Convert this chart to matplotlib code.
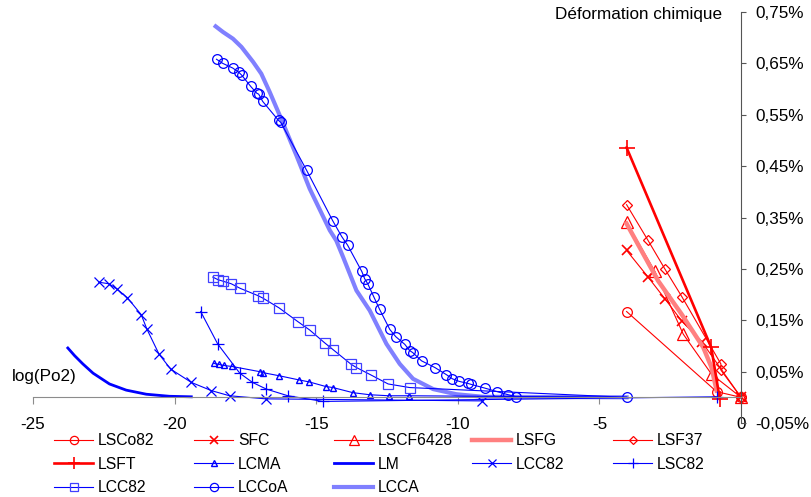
import numpy as np
import matplotlib.pyplot as plt
from matplotlib.ticker import FixedLocator, FuncFormatter

plt.rcParams['font.family'] = ['Liberation Sans', 'DejaVu Sans']
plt.rcParams['axes.unicode_minus'] = False

# --- data (x = log(Po2), y = chemical strain in %) ---
lsco82_x = [-4.04, -0.86, 0.0]
lsco82_y = [0.167, 0.011, 0.0]

sfc_x = [-4.04, -3.28, -2.69, -2.10, -1.37, 0.0]
sfc_y = [0.286, 0.234, 0.192, 0.149, 0.107, 0.0]

lscf6428_x = [-4.04, -3.04, -2.04, -1.04, 0.0]
lscf6428_y = [0.341, 0.245, 0.123, 0.045, 0.0]

lsfg_x = [-4.04, -2.93, -2.10, -1.33, -1.04, -0.86]
lsfg_y = [0.338, 0.227, 0.162, 0.097, 0.058, 0.013]

lsf37_x = [-4.04, -3.30, -2.69, -2.09, -0.71, -0.71, 0.0]
lsf37_y = [0.375, 0.307, 0.250, 0.196, 0.065, 0.053, 0.0]

lsft_x = [-4.04, -1.05, -0.75]
lsft_y = [0.486, 0.097, -0.003]

lcma_x = [-18.62, -18.43, -18.27, -17.97, -17.00, -16.88, -16.31, -15.62, -15.25,
          -14.66, -14.41, -13.70, -13.11, -12.43, -11.72, -4.04]
lcma_y = [0.066, 0.064, 0.062, 0.060, 0.050, 0.048, 0.042, 0.034, 0.030,
          0.021, 0.019, 0.009, 0.005, 0.003, 0.003, 0.0]

lm_x = [-23.77, -23.53, -23.24, -22.88, -22.30, -21.71, -21.00, -20.18, -19.41]
lm_y = [0.096, 0.081, 0.065, 0.047, 0.026, 0.014, 0.006, 0.002, 0.001]

lcc82x_x = [-22.67, -22.32, -22.04, -21.67, -21.18, -20.98, -20.55, -20.14, -19.41,
            -18.70, -18.06, -16.78, -9.13]
lcc82x_y = [0.224, 0.221, 0.211, 0.194, 0.161, 0.133, 0.084, 0.055, 0.029,
            0.013, 0.003, -0.003, -0.007]

lsc82_x = [-19.08, -18.48, -17.70, -17.25, -16.76, -16.00, -14.76, -0.86]
lsc82_y = [0.167, 0.104, 0.047, 0.029, 0.016, 0.003, -0.008, 0.001]

lcc82s_x = [-18.65, -18.47, -18.29, -18.00, -17.68, -17.06, -16.88, -16.31, -15.64,
            -15.23, -14.70, -14.41, -13.76, -13.58, -13.05, -12.46, -11.70, -4.04]
lcc82s_y = [0.234, 0.229, 0.226, 0.221, 0.212, 0.198, 0.193, 0.174, 0.147,
            0.131, 0.106, 0.093, 0.064, 0.058, 0.043, 0.026, 0.019, 0.0]

lccoa_x = [-18.52, -18.30, -17.95, -17.74, -17.63, -17.31, -17.10, -17.03, -16.89,
           -16.33, -16.25, -15.34, -14.42, -14.10, -13.89, -13.39, -13.29, -13.18,
           -12.97, -12.76, -12.40, -12.19, -11.87, -11.70, -11.59, -11.28, -10.81,
           -10.40, -10.19, -9.95, -9.64, -9.52, -9.05, -8.61, -8.22, -7.93, -4.04]
lccoa_y = [0.658, 0.650, 0.641, 0.633, 0.627, 0.605, 0.592, 0.590, 0.576,
           0.539, 0.535, 0.442, 0.344, 0.313, 0.296, 0.245, 0.231, 0.221,
           0.196, 0.171, 0.132, 0.118, 0.103, 0.091, 0.087, 0.071, 0.058,
           0.044, 0.036, 0.031, 0.027, 0.025, 0.018, 0.011, 0.005, 0.001, 0.0]

lcca_x = [-18.55, -18.29, -17.94, -17.64, -17.23, -16.94, -16.64, -16.29, -15.70,
          -15.23, -14.52, -14.29, -14.05, -13.58, -13.11, -12.52, -12.05, -11.58,
          -10.87, -10.05, -9.12, -4.04]
lcca_y = [0.722, 0.711, 0.698, 0.682, 0.653, 0.630, 0.594, 0.549, 0.471,
          0.406, 0.325, 0.305, 0.273, 0.208, 0.169, 0.104, 0.065, 0.036,
          0.016, 0.006, 0.001, 0.0]

x_ticks = [-25, -20, -15, -10, -5, 0]
y_ticks = [-0.05, 0.05, 0.15, 0.25, 0.35, 0.45, 0.55, 0.65, 0.75]

RED = '#ff0000'
BLUE = '#0000ff'

fig = plt.figure(figsize=(8.11, 4.97), dpi=100)
ax = fig.add_axes([33 / 811, 74 / 497, 708 / 811, 411 / 497])

h = []
h += ax.plot(lsco82_x, lsco82_y, color=RED, lw=0.8, marker='o', ms=7, mfc='none', mew=0.9, label='LSCo82')
h += ax.plot(sfc_x, sfc_y, color=RED, lw=0.8, marker='x', ms=7, mew=1.2, label='SFC')
h += ax.plot(lscf6428_x, lscf6428_y, color=RED, lw=0.8, marker='^', ms=8, mfc='none', mew=0.9, label='LSCF6428')
h += ax.plot(lsfg_x, lsfg_y, color='#ff8080', lw=3.2, label='LSFG')
h += ax.plot(lsf37_x, lsf37_y, color=RED, lw=0.8, marker='D', ms=5, mfc='none', mew=0.9, label='LSF37')
h += ax.plot(lsft_x, lsft_y, color=RED, lw=1.9, marker='+', ms=11, mew=1.2, label='LSFT')
h += ax.plot(lcma_x, lcma_y, color=BLUE, lw=0.8, marker='^', ms=4.5, mfc='none', mew=1.0,
             markevery=slice(0, -1), label='LCMA')
h += ax.plot(lm_x, lm_y, color=BLUE, lw=2.0, label='LM')
h += ax.plot(lcc82x_x, lcc82x_y, color=BLUE, lw=0.8, marker='x', ms=7, mew=0.9, label='LCC82')
h += ax.plot(lsc82_x, lsc82_y, color=BLUE, lw=0.8, marker='+', ms=9, mew=0.9, label='LSC82')
h += ax.plot(lcc82s_x, lcc82s_y, color=BLUE, lw=0.8, marker='s', ms=6.5, mfc='none', mec='#4040ff', mew=0.9,
             markevery=slice(0, -1), label='LCC82')
h += ax.plot(lccoa_x, lccoa_y, color=BLUE, lw=0.8, marker='o', ms=7, mfc='none', mew=0.9, label='LCCoA')
h += ax.plot(lcca_x, lcca_y, color='#8080ff', lw=3.0, zorder=1.5, label='LCCA')
for ln in h:
    ln.set_clip_on(False)

ax.set_xlim(-25, 0)
ax.set_ylim(-0.05, 0.75)
ax.spines['left'].set_visible(False)
ax.spines['top'].set_visible(False)
ax.spines['bottom'].set_position(('data', 0))
ax.spines['bottom'].set_color('#8c8c8c')
ax.spines['right'].set_color('#555555')
ax.yaxis.tick_right()
ax.xaxis.set_major_locator(FixedLocator(x_ticks))
ax.yaxis.set_major_locator(FixedLocator(y_ticks))
ax.xaxis.set_major_formatter(FuncFormatter(lambda v, p: '%d' % v))
ax.yaxis.set_major_formatter(FuncFormatter(lambda v, p: ('%.2f%%' % v).replace('.', ',')))
ax.tick_params(axis='x', direction='out', length=5, pad=9, labelsize=12.3, color='#8c8c8c')
ax.tick_params(axis='y', direction='out', length=3.5, pad=7, labelsize=12.3, color='#555555')

fig.text(12 / 811, 1 - 377 / 497, 'log(Po2)', ha='left', va='center', fontsize=12.3)
fig.text(722 / 811, 1 - 14 / 497, 'Déformation chimique', ha='right', va='center', fontsize=12.3)

# legend laid out as 5 columns, row-major like the original
col_x = [54, 194, 334, 472, 613]
for c in range(5):
    lg = fig.legend(handles=h[c::5], loc='upper left', bbox_to_anchor=(col_x[c] / 811, 1 - 433 / 497),
                    frameon=False, fontsize=11.3, borderpad=0, borderaxespad=0, handlelength=2.5,
                    handletextpad=0.3, labelspacing=0.55, numpoints=1, markerscale=0.85)

fig.savefig('out.png', dpi=100)
